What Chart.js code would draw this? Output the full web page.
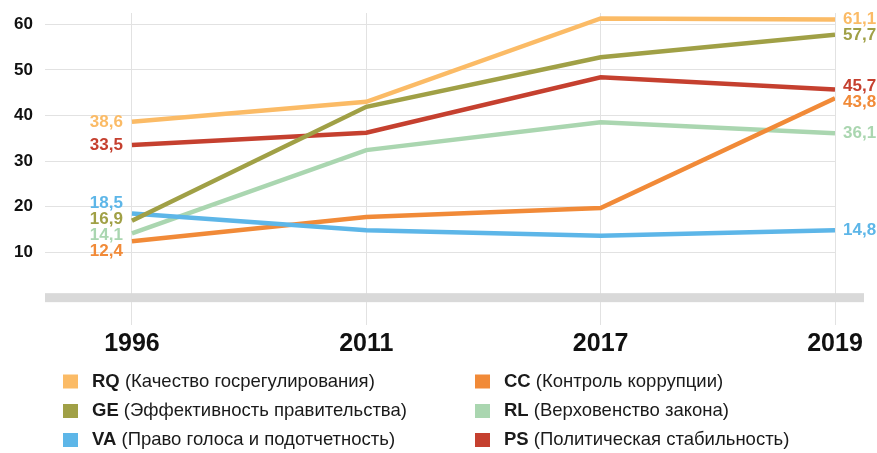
<!DOCTYPE html>
<html>
<head>
<meta charset="utf-8">
<script src="https://cdn.jsdelivr.net/npm/chart.js@4.4.1/dist/chart.umd.min.js"></script>
<style>
  html, body { margin: 0; padding: 0; background: #fff; }
  #wrap { width: 877px; height: 453px; }
</style>
</head>
<body>
<div id="wrap"><canvas id="chart" width="877" height="453"></canvas></div>
<script>
const years = ["1996", "2011", "2017", "2019"];
const yTicks = [10, 20, 30, 40, 50, 60];

const codes = ["RQ", "GE", "VA", "CC", "RL", "PS"];
const names = [
    "(Качество госрегулирования)",
    "(Эффективность правительства)",
    "(Право голоса и подотчетность)",
    "(Контроль коррупции)",
    "(Верховенство закона)",
    "(Политическая стабильность)"
];
const colors = ["#fbbb66", "#a0a046", "#5db6e8", "#f18a38", "#aad6b0", "#c5402f"];

const rq = [38.6, 43.0, 61.3, 61.1];
const ge = [16.9, 41.9, 52.8, 57.7];
const va = [18.5, 14.8, 13.6, 14.8];
const cc = [12.4, 17.7, 19.7, 43.8];
const rl = [14.1, 32.4, 38.5, 36.1];
const ps = [33.5, 36.2, 48.4, 45.7];
const series = [rq, ge, va, cc, rl, ps];

Chart.defaults.font.family = "'Liberation Sans', Arial, sans-serif";

function fmt(v) {
    return v.toFixed(1).replace(".", ",");
}

// spread labels apart so they don't overlap
function spread(items, gap) {
    items.sort((a, b) => a.y - b.y);
    let groups = items.map(it => ({ members: [it], center: it.y }));
    let moved = true;
    while (moved) {
        moved = false;
        for (let i = 0; i < groups.length - 1; i++) {
            const a = groups[i], b = groups[i + 1];
            const aBottom = a.center + (a.members.length - 1) * gap / 2;
            const bTop = b.center - (b.members.length - 1) * gap / 2;
            if (bTop - aBottom < gap) {
                const members = a.members.concat(b.members);
                const center = members.reduce((s, m) => s + m.y, 0) / members.length;
                groups.splice(i, 2, { members: members, center: center });
                moved = true;
                break;
            }
        }
    }
    groups.forEach(g => {
        const start = g.center - (g.members.length - 1) * gap / 2;
        g.members.forEach((m, k) => { m.ly = start + k * gap; });
    });
    return items;
}

const zeroBar = {
    id: "zeroBar",
    beforeDatasetsDraw(chart) {
        const ctx = chart.ctx;
        const area = chart.chartArea;
        const y0 = chart.scales.y.getPixelForValue(0);
        ctx.save();
        ctx.fillStyle = "#d9d9d9";
        ctx.fillRect(area.left, y0 - 4.5, area.right + 29 - area.left, 9);
        ctx.restore();
    }
};

const endLabels = {
    id: "endLabels",
    afterDatasetsDraw(chart) {
        const ctx = chart.ctx;
        const xs = chart.scales.x, ys = chart.scales.y;
        ctx.save();
        ctx.font = "bold 17px 'Liberation Sans', Arial, sans-serif";
        ctx.textBaseline = "middle";
        [0, years.length - 1].forEach(idx => {
            let items = series.map((s, i) => ({ y: ys.getPixelForValue(s[idx]), v: s[idx], c: colors[i] }));
            items = spread(items, 16);
            const x = xs.getPixelForValue(idx);
            ctx.textAlign = idx === 0 ? "right" : "left";
            items.forEach(it => {
                ctx.fillStyle = it.c;
                ctx.fillText(fmt(it.v), idx === 0 ? x - 9 : x + 8, it.ly);
            });
        });
        ctx.restore();
    }
};

const legendBlock = {
    id: "legendBlock",
    afterDraw(chart) {
        const ctx = chart.ctx;
        const colX = [63, 475];
        const rowY = [381.5, 411, 440];
        ctx.save();
        ctx.textBaseline = "middle";
        ctx.textAlign = "left";
        codes.forEach((code, i) => {
            const col = Math.floor(i / 3), row = i % 3;
            const x = colX[col], y = rowY[row];
            ctx.fillStyle = colors[i];
            ctx.fillRect(x, y - 7, 15, 14);
            ctx.fillStyle = "#1a1a1a";
            ctx.font = "bold 18.5px 'Liberation Sans', Arial, sans-serif";
            ctx.fillText(code, x + 29, y);
            const w = ctx.measureText(code + " ").width;
            ctx.font = "18.5px 'Liberation Sans', Arial, sans-serif";
            ctx.fillText(names[i], x + 29 + w, y);
        });
        ctx.restore();
    }
};

const ctx_main = document.getElementById("chart").getContext("2d");
const main_chart = new Chart(ctx_main, {
    type: "line",
    data: {
        datasets: series.map((s, i) => ({
            label: codes[i],
            data: s.map((v, k) => ({ x: k, y: v })),
            borderColor: colors[i],
            backgroundColor: colors[i],
            borderWidth: 4.5,
            pointRadius: 0,
            tension: 0,
        }))
    },
    options: {
        responsive: false,
        animation: false,
        layout: {
            padding: { top: 13, right: 42, bottom: 88, left: 0 }
        },
        scales: {
            x: {
                type: "linear",
                min: -0.371,
                max: years.length - 1,
                afterBuildTicks: scale => { scale.ticks = years.map((_, i) => ({ value: i })); },
                afterFit: scale => {
                    scale.height = 40;
                    scale.paddingLeft = 0;
                    scale.paddingRight = 0;
                },
                grid: { color: "#e2e2e2", lineWidth: 1, drawTicks: false },
                border: { display: false },
                ticks: {
                    callback: v => years[v],
                    font: { size: 25, weight: "bold" },
                    color: "#111",
                    padding: 4,
                    maxRotation: 0,
                }
            },
            y: {
                min: -6,
                max: 62.5,
                afterBuildTicks: scale => { scale.ticks = yTicks.map(v => ({ value: v })); },
                afterFit: scale => {
                    scale.width = 45;
                    scale.paddingTop = 0;
                    scale.paddingBottom = 0;
                },
                grid: { color: "#e2e2e2", lineWidth: 1, drawTicks: false },
                border: { display: false },
                ticks: {
                    font: { size: 17, weight: "bold" },
                    color: "#111",
                    padding: 12,
                }
            }
        },
        plugins: {
            legend: { display: false },
            tooltip: { enabled: false },
        }
    },
    plugins: [zeroBar, endLabels, legendBlock]
});
</script>
</body>
</html>
